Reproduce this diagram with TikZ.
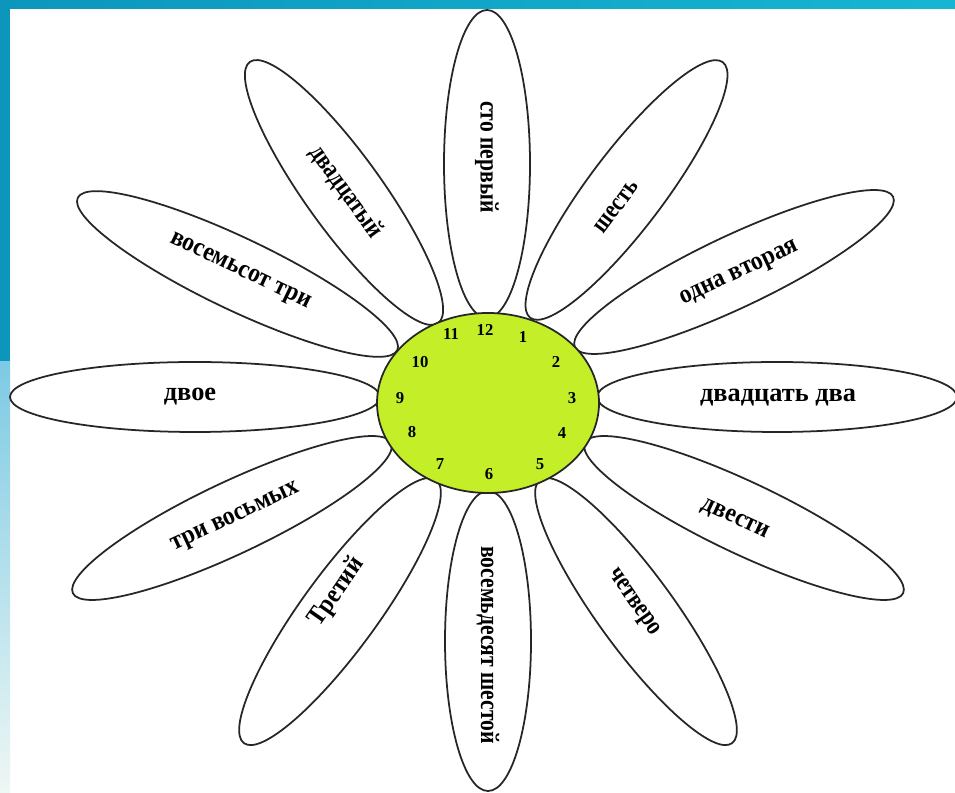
\documentclass[tikz,border=0pt]{standalone}
\usepackage{fontspec}
\setmainfont{Liberation Serif}
\definecolor{barblue}{RGB}{12,150,188}
\definecolor{barcyan}{RGB}{22,182,210}
\definecolor{barlight}{RGB}{125,202,228}
\definecolor{barpale}{RGB}{238,247,244}
\definecolor{heartgreen}{RGB}{196,238,40}
\begin{document}
\begin{tikzpicture}[x=0.02cm, y=0.02cm,
  petal/.style={draw=black!85, fill=white, line width=1pt},
  word/.style={font=\bfseries\fontsize{15}{17}\selectfont, inner sep=1pt},
  hour/.style={font=\bfseries\fontsize{9.5}{11}\selectfont, inner sep=0.5pt}]
  \useasboundingbox (0,0) rectangle (955,793);
  \fill[white] (0,0) rectangle (955,793);
  \shade[left color=barblue, right color=barcyan] (0,784) rectangle (955,793);
  \fill[barblue] (0,431) rectangle (10,793);
  \shade[top color=barlight, bottom color=barpale] (0,0) rectangle (10,431);
  \draw[petal, rotate around={90:(487,629)}] (487,629) ellipse [x radius=154, y radius=43];
  \draw[petal, rotate around={53:(626.5,603)}] (626.5,603) ellipse [x radius=160, y radius=38];
  \draw[petal, rotate around={25.3:(734,521)}] (734,521) ellipse [x radius=176, y radius=36];
  \draw[petal] (777,396) ellipse [x radius=180, y radius=35];
  \draw[petal, rotate around={-25.3:(744,275)}] (744,275) ellipse [x radius=176, y radius=36];
  \draw[petal, rotate around={-53.9:(636,181.5)}] (636,181.5) ellipse [x radius=163, y radius=38];
  \draw[petal, rotate around={90:(488,152)}] (488,152) ellipse [x radius=150, y radius=43];
  \draw[petal, rotate around={53.9:(340,181.5)}] (340,181.5) ellipse [x radius=163, y radius=38];
  \draw[petal, rotate around={25.3:(232,275)}] (232,275) ellipse [x radius=176, y radius=36];
  \draw[petal] (195,396) ellipse [x radius=185, y radius=35];
  \draw[petal, rotate around={-25.5:(237.5,519)}] (237.5,519) ellipse [x radius=177, y radius=36];
  \draw[petal, rotate around={-54.2:(344,600.5)}] (344,600.5) ellipse [x radius=161, y radius=38];
  \draw[petal, fill=heartgreen] (488,390) ellipse [x radius=111, y radius=90];
  \node[word, rotate=-90] (w12) at (487,636) {\scalebox{0.82}[1]{сто первый}};
  \node[word, rotate=53] (w1) at (617,586) {\scalebox{0.82}[1]{шесть}};
  \node[word, rotate=25] (w2) at (740,519) {\scalebox{0.9}[1]{одна вторая}};
  \node[word] (w3) at (778,395) {двадцать два};
  \node[word, rotate=-25] (w4) at (735,273) {\scalebox{0.9}[1]{двести}};
  \node[word, rotate=-55] (w5) at (633,190) {\scalebox{0.82}[1]{четверо}};
  \node[word, rotate=-90] (w6) at (488,148) {\scalebox{0.82}[1]{восемьдесят шестой}};
  \node[word, rotate=55] (w7) at (337,201) {\scalebox{0.9}[1]{Третий}};
  \node[word, rotate=25] (w8) at (236,275) {\scalebox{0.9}[1]{три восьмых}};
  \node[word] (w9) at (190,396) {двое};
  \node[word, rotate=-25.5] (w10) at (240,521) {\scalebox{0.9}[1]{восемьсот три}};
  \node[word, rotate=-54] (w11) at (346,601) {\scalebox{0.82}[1]{двадцатый}};
  \node[hour] (h12) at (485,463) {12};
  \node[hour] (h1) at (523,456) {1};
  \node[hour] (h2) at (556,431) {2};
  \node[hour] (h3) at (572,395) {3};
  \node[hour] (h4) at (562,360) {4};
  \node[hour] (h5) at (540,329) {5};
  \node[hour] (h6) at (489,319) {6};
  \node[hour] (h7) at (440,329) {7};
  \node[hour] (h8) at (412,361) {8};
  \node[hour] (h9) at (400,395) {9};
  \node[hour] (h10) at (420,431) {10};
  \node[hour] (h11) at (451,459) {11};
\end{tikzpicture}
\end{document}
